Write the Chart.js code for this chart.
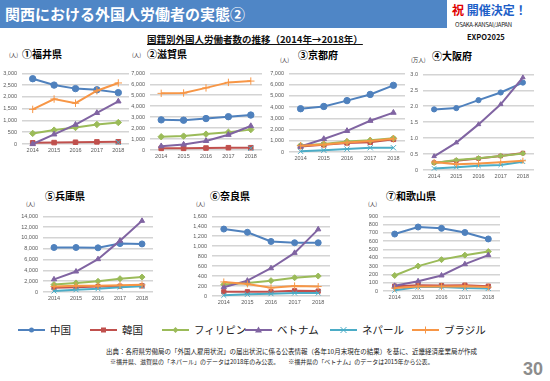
<!DOCTYPE html>
<html><head><meta charset="utf-8">
<script src="https://cdn.jsdelivr.net/npm/chart.js@4/dist/chart.umd.min.js"></script>
<style>
html,body{margin:0;padding:0;background:#fff;}
#wrap{position:relative;width:550px;height:381px;overflow:hidden;background:#fff;font-family:"Noto Sans CJK JP","Noto Sans",sans-serif;}
.abs{position:absolute;white-space:nowrap;}
canvas{position:absolute;}
</style></head><body>
<div id="wrap">
  <div class="abs" style="left:0;top:0;width:447px;height:28px;background:#4f86c6;"></div>
  <div class="abs" style="left:5px;top:4px;color:#fff;font-weight:bold;font-size:15px;line-height:19px;">関西における外国人労働者の実態②</div>
  <div class="abs" style="left:452px;top:2px;font-weight:bold;font-size:12px;line-height:15px;"><span style="color:#e00000">祝</span> <span style="color:#1f5fc8">開催決定！</span></div>
  <div class="abs" style="left:455px;top:21px;font-size:6px;line-height:8px;color:#222;letter-spacing:-0.3px;">OSAKA-KANSAI/JAPAN</div>
  <div class="abs" style="left:467px;top:32px;font-size:7.5px;line-height:10px;color:#111;font-weight:bold;">EXPO2025</div>
  <div class="abs" style="left:147px;top:33px;font-size:9.5px;line-height:13px;font-weight:bold;color:#111;text-decoration:underline;">国籍別外国人労働者数の推移（2014年→2018年）</div>

  <div class="abs" style="left:22px;top:47px;font-size:10px;line-height:13px;font-weight:bold;">①福井県</div>
  <div class="abs" style="left:147px;top:47px;font-size:10px;line-height:13px;font-weight:bold;">②滋賀県</div>
  <div class="abs" style="left:298px;top:48px;font-size:10px;line-height:13px;font-weight:bold;">③京都府</div>
  <div class="abs" style="left:432px;top:49px;font-size:10px;line-height:13px;font-weight:bold;">④大阪府</div>
  <div class="abs" style="left:45px;top:189px;font-size:10px;line-height:13px;font-weight:bold;">⑤兵庫県</div>
  <div class="abs" style="left:210px;top:189px;font-size:10px;line-height:13px;font-weight:bold;">⑥奈良県</div>
  <div class="abs" style="left:386px;top:189px;font-size:10px;line-height:13px;font-weight:bold;">⑦和歌山県</div>

  <div class="abs" style="left:9px;top:52px;font-size:5.5px;line-height:7px;color:#333;">(人)</div>
  <div class="abs" style="left:132px;top:52px;font-size:5.5px;line-height:7px;color:#333;">(人)</div>
  <div class="abs" style="left:280px;top:57px;font-size:5.5px;line-height:7px;color:#333;">(人)</div>
  <div class="abs" style="left:411px;top:57px;font-size:5.5px;line-height:7px;color:#333;">(万人)</div>
  <div class="abs" style="left:26px;top:201px;font-size:5.5px;line-height:7px;color:#333;">(人)</div>
  <div class="abs" style="left:196px;top:201px;font-size:5.5px;line-height:7px;color:#333;">(人)</div>
  <div class="abs" style="left:368px;top:201px;font-size:5.5px;line-height:7px;color:#333;">(人)</div>

  <svg class="abs" id="legend" style="left:0;top:320px;" width="550" height="20"></svg>

  <div class="abs" style="left:106px;top:347px;font-size:6.5px;line-height:9px;color:#222;">出典：各府県労働局の「外国人雇用状況」の届出状況に係る公表情報（各年10月末現在の結果）を基に、近畿経済産業局が作成</div>
  <div class="abs" style="left:110px;top:357px;font-size:6px;line-height:9px;color:#222;">※福井県、滋賀県の「ネパール」のデータは2018年のみ公表。　　※福井県の「ベトナム」のデータは2015年から公表。</div>
  <div class="abs" style="left:523px;top:359px;font-size:18px;line-height:20px;color:#8c8c8c;font-weight:bold;font-family:'Liberation Sans',sans-serif;">30</div>
</div>
<script>
// ---- data ----
const years = ['2014','2015','2016','2017','2018'];
const seriesNames = ['中国','韓国','フィリピン','ベトナム','ネパール','ブラジル'];
const seriesColors = ['#4f81bd','#c0504d','#9bbb59','#8064a2','#4bacc6','#f79646'];
const seriesMarkers = ['circle','rect','rectRot','triangle','crossRot','cross'];

// order: 中国, 韓国, フィリピン, ベトナム, ネパール, ブラジル
const fukui = [
  [2770, 2500, 2350, 2300, 2180],
  [50, 60, 75, 90, 95],
  [450, 590, 700, 830, 910],
  [0, 410, 820, 1320, 1810],
  [null, null, null, null, 70],
  [1470, 1910, 1730, 2260, 2590]
];
const shiga = [
  [2750, 2720, 2870, 3040, 3190],
  [150, 150, 180, 210, 210],
  [1210, 1270, 1450, 1620, 1860],
  [350, 500, 830, 1390, 2190],
  [null, null, null, null, 160],
  [5170, 5200, 5670, 6170, 6290]
];
const kyoto = [
  [3850, 4050, 4570, 5120, 5930],
  [490, 640, 810, 870, 1130],
  [580, 720, 930, 1040, 1220],
  [490, 1160, 1880, 2780, 3500],
  [60, 150, 260, 380, 380],
  [560, 660, 850, 980, 1170]
];
const osaka = [
  [1.90, 1.94, 2.19, 2.43, 2.74],
  [0.23, 0.29, 0.36, 0.44, 0.53],
  [0.22, 0.31, 0.37, 0.44, 0.52],
  [0.43, 0.86, 1.43, 2.06, 2.90],
  [0.05, 0.09, 0.13, 0.16, 0.26],
  [0.25, 0.18, 0.20, 0.24, 0.29]
];
const hyogo = [
  [8230, 8230, 8170, 8950, 8890],
  [780, 900, 1020, 1080, 1140],
  [1380, 1680, 1980, 2460, 2760],
  [2340, 3790, 6070, 9500, 13160],
  [180, 420, 600, 900, 1080],
  [1020, 1140, 1150, 1260, 1320]
];
const nara = [
  [1344, 1279, 1095, 1069, 1069],
  [85, 85, 85, 105, 98],
  [230, 262, 308, 367, 400],
  [177, 308, 557, 866, 1338],
  [13, 33, 46, 59, 59],
  [282, 243, 164, 203, 190]
];
const wakayama = [
  [686, 771, 755, 705, 627],
  [58, 70, 66, 70, 58],
  [187, 300, 378, 432, 475],
  [62, 117, 187, 323, 432],
  [8, 47, 47, 35, 31],
  [35, 55, 55, 58, 47]
];

// ---- layout (chart areas in page pixels) ----
const YW = 26, PR = 4, PT = 6, XH = 12;
function makeChart(id, rows, area, max, step, r){
  const wrap = document.getElementById('wrap');
  const c = document.createElement('canvas');
  const w = YW + area.w + PR, h = PT + area.h + XH;
  c.width = w; c.height = h;
  c.style.width = w + 'px'; c.style.height = h + 'px';
  c.style.left = (area.l - YW) + 'px'; c.style.top = (area.t - PT) + 'px';
  c.id = id;
  wrap.appendChild(c);
  new Chart(c, {
    type: 'line',
    data: {
      labels: years,
      datasets: rows.map((vals, i) => ({
        label: seriesNames[i],
        data: vals,
        borderColor: seriesColors[i],
        backgroundColor: seriesColors[i],
        pointStyle: seriesMarkers[i],
        pointRadius: (seriesMarkers[i]==='cross'||seriesMarkers[i]==='crossRot') ? r+0.5 : r,
        pointBorderWidth: 1,
        borderWidth: 2,
        tension: 0,
        spanGaps: false,
        clip: false
      })).reverse()
    },
    options: {
      responsive: false,
      animation: false,
      devicePixelRatio: 1,
      layout: {padding: {top: PT, right: PR, left: 0, bottom: 0}},
      plugins: {legend: {display: false}, tooltip: {enabled: false}},
      scales: {
        x: {
          offset: true,
          grid: {display: false, drawTicks: false},
          border: {display: false},
          ticks: {font: {size: 5.5, family: 'Liberation Sans'}, color: '#595959', padding: 3, maxRotation: 0, autoSkip: false},
          afterFit: (a) => { a.height = XH; }
        },
        y: {
          min: 0, max: max,
          grid: {color: '#d4d4d4', lineWidth: 1.5, drawTicks: false},
          border: {display: false},
          ticks: {stepSize: step, autoSkip: false, font: {size: 5.5, family: 'Liberation Sans'}, color: '#595959', padding: 5},
          afterFit: (a) => { a.width = YW; }
        }
      }
    }
  });
}

makeChart('c1', fukui,    {l:22,  t:71,  w:108, h:73}, 3000, 500, 3.2);
makeChart('c2', shiga,    {l:150, t:71,  w:113, h:79}, 7000, 1000, 3.2);
makeChart('c3', kyoto,    {l:289, t:71,  w:117, h:81}, 7000, 1000, 3.2);
makeChart('c4', osaka,    {l:423, t:72,  w:112, h:98}, 3, 0.5, 2.6);
makeChart('c5', hyogo,    {l:43,  t:214, w:111, h:78}, 14000, 2000, 3);
makeChart('c6', nara,     {l:212, t:214, w:119, h:82}, 1600, 200, 3);
makeChart('c7', wakayama, {l:383, t:214, w:118, h:77}, 900, 100, 3);

// ---- legend (HTML/SVG) ----
const legendX = [18, 90, 162, 245, 330, 412];
const svg = document.getElementById('legend');
const NS = 'http://www.w3.org/2000/svg';
seriesNames.forEach((name, i) => {
  const x = legendX[i], y = 10, col = seriesColors[i];
  const ln = document.createElementNS(NS, 'line');
  ln.setAttribute('x1', x); ln.setAttribute('x2', x + 27);
  ln.setAttribute('y1', y); ln.setAttribute('y2', y);
  ln.setAttribute('stroke', col); ln.setAttribute('stroke-width', 2);
  svg.appendChild(ln);
  const cx = x + 13.5;
  let m;
  const mk = seriesMarkers[i];
  if (mk === 'circle') { m = document.createElementNS(NS,'circle'); m.setAttribute('cx',cx); m.setAttribute('cy',y); m.setAttribute('r',2.5); m.setAttribute('fill',col); }
  else if (mk === 'rect') { m = document.createElementNS(NS,'rect'); m.setAttribute('x',cx-2.5); m.setAttribute('y',y-2.5); m.setAttribute('width',5); m.setAttribute('height',5); m.setAttribute('fill',col); }
  else if (mk === 'rectRot') { m = document.createElementNS(NS,'polygon'); m.setAttribute('points',`${cx},${y-3} ${cx+3},${y} ${cx},${y+3} ${cx-3},${y}`); m.setAttribute('fill',col); }
  else if (mk === 'triangle') { m = document.createElementNS(NS,'polygon'); m.setAttribute('points',`${cx},${y-3.5} ${cx+3.5},${y+2.5} ${cx-3.5},${y+2.5}`); m.setAttribute('fill',col); }
  else if (mk === 'crossRot') { m = document.createElementNS(NS,'path'); m.setAttribute('d',`M${cx-3} ${y-3}L${cx+3} ${y+3}M${cx+3} ${y-3}L${cx-3} ${y+3}`); m.setAttribute('stroke',col); m.setAttribute('stroke-width',1); }
  else { m = document.createElementNS(NS,'path'); m.setAttribute('d',`M${cx-3.5} ${y}L${cx+3.5} ${y}M${cx} ${y-3.5}L${cx} ${y+3.5}`); m.setAttribute('stroke',col); m.setAttribute('stroke-width',1); }
  svg.appendChild(m);
  const t = document.createElementNS(NS,'text');
  t.setAttribute('x', x + 32); t.setAttribute('y', y + 3.8);
  t.setAttribute('font-size', 10.5); t.setAttribute('fill', '#222');
  t.setAttribute('font-family', '"Noto Sans CJK JP", sans-serif');
  t.textContent = name;
  svg.appendChild(t);
});
</script>
</body></html>
